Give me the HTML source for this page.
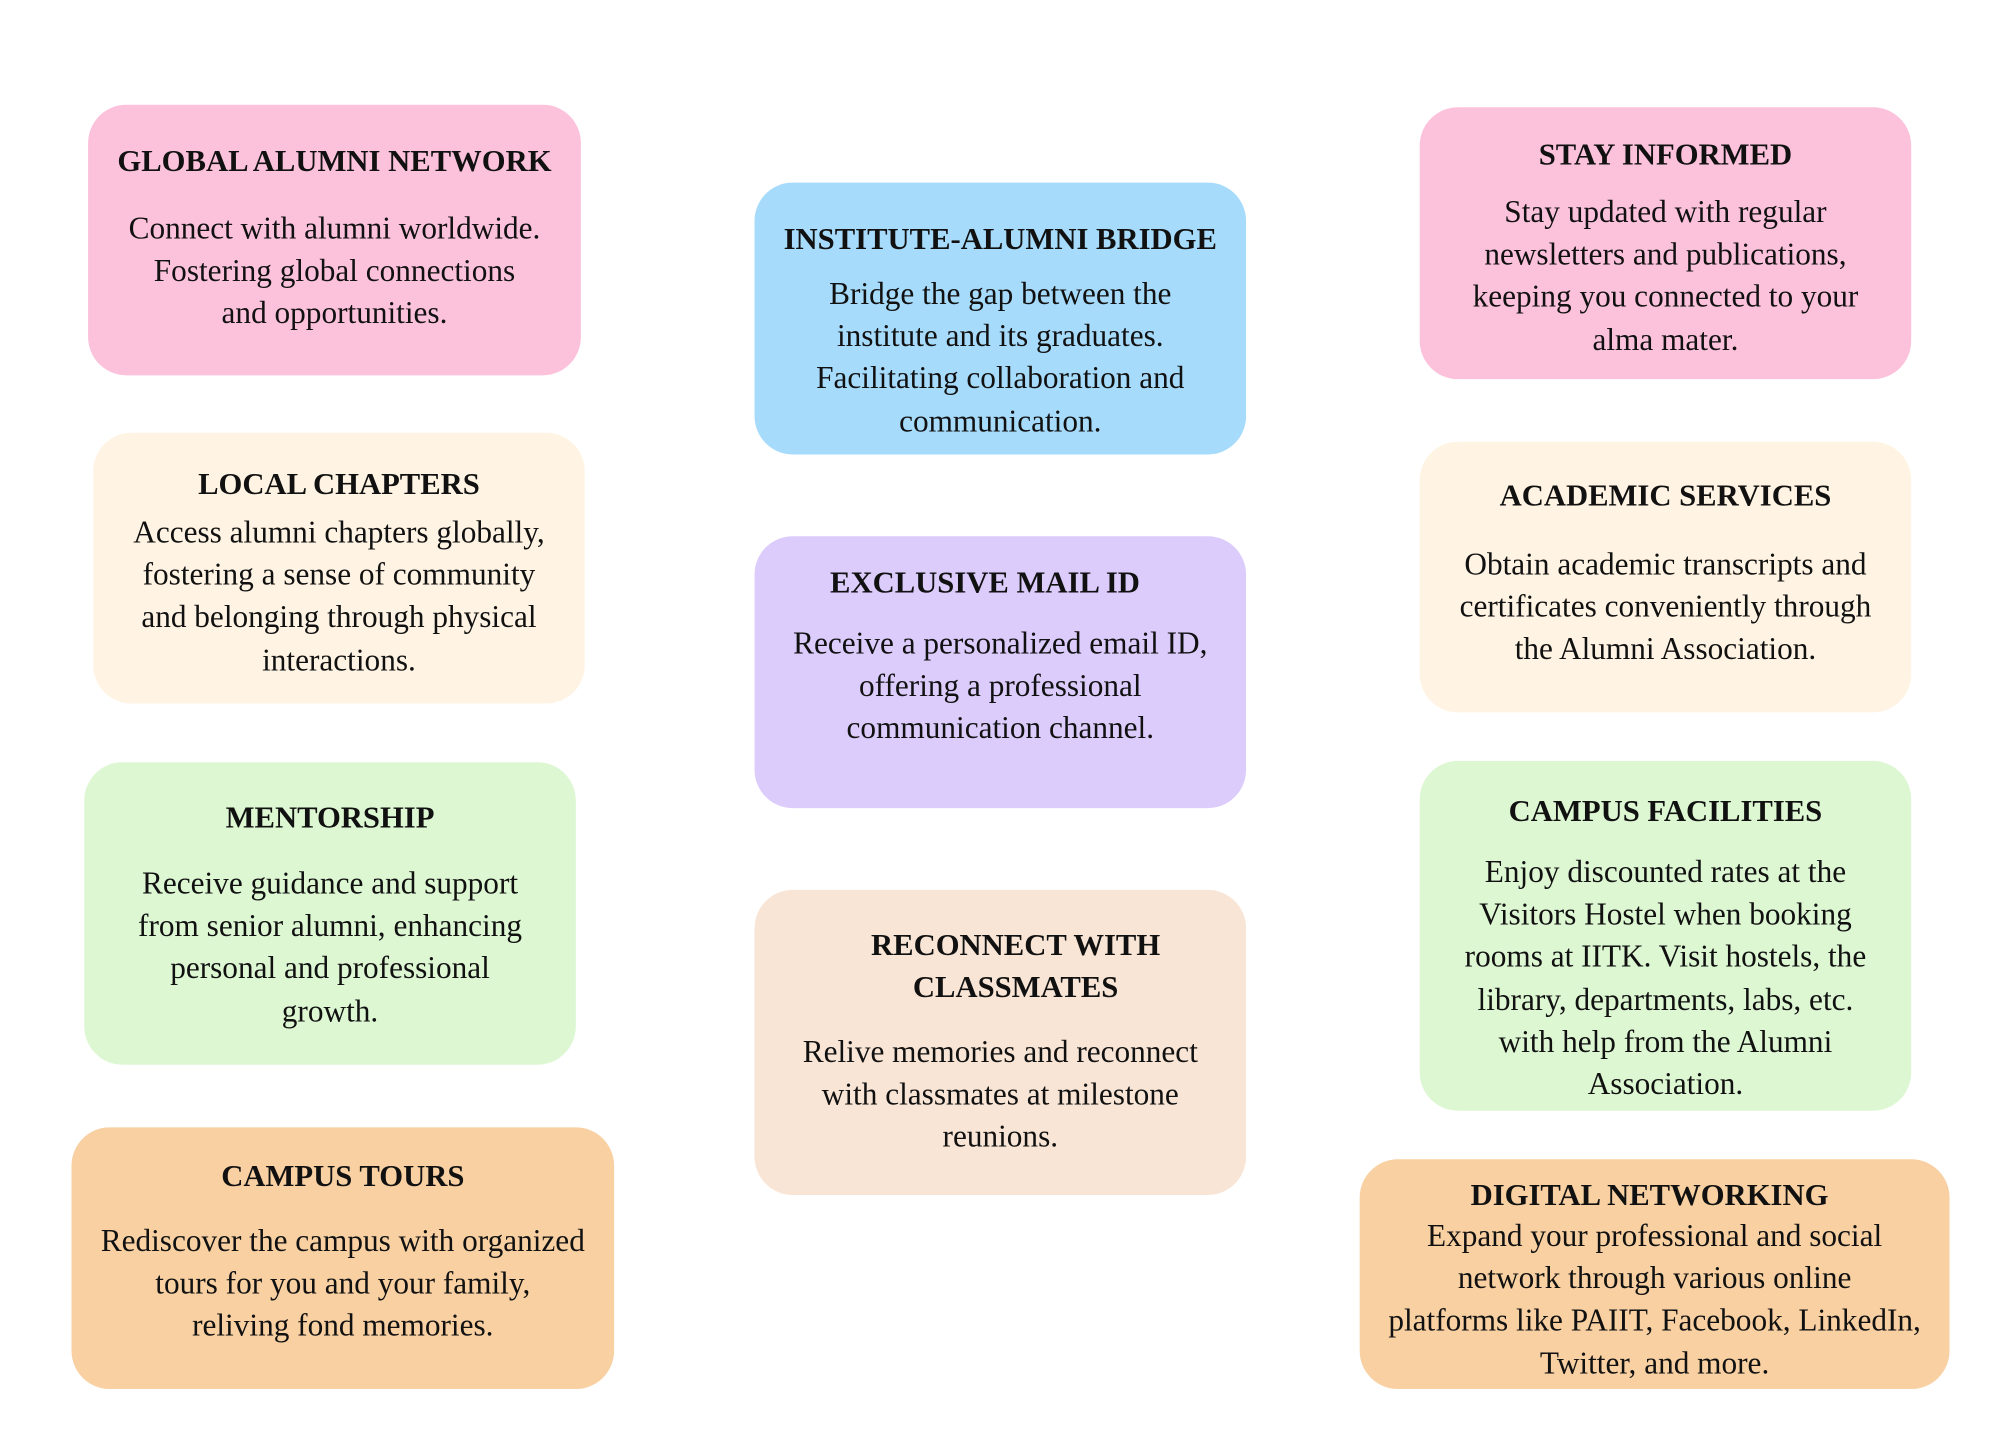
<!DOCTYPE html>
<html><head><meta charset="utf-8">
<style>
html,body{margin:0;padding:0;background:#fff;}
body{width:2000px;height:1429px;overflow:hidden;position:relative;}
#s{position:absolute;left:0;top:0;width:1568px;height:1120px;transform:scale(1.2767);transform-origin:0 0;font-family:"Liberation Serif",serif;color:#111;}
.b{position:absolute;border-radius:30px;}
.t{position:absolute;left:0;right:0;text-align:center;font-weight:bold;font-size:24px;line-height:33px;white-space:nowrap;}
.p{position:absolute;left:0;right:0;text-align:center;font-size:24.5px;line-height:33.2px;white-space:nowrap;}
.pk{background:#fcc2dc}.cr{background:#fff4e3}.gr{background:#ddf7d3}.or{background:#f8d0a2}
.bl{background:#a6dbfb}.pu{background:#dcccfc}.pe{background:#f8e5d5}
</style></head><body><div id="s">

<div class="b pk" style="left:69px;top:82px;width:386px;height:212px">
<div class="t" style="top:29px">GLOBAL ALUMNI NETWORK</div>
<div class="p" style="top:81px">Connect with alumni worldwide.<br>Fostering global connections<br>and opportunities.</div></div>

<div class="b cr" style="left:73px;top:339px;width:385px;height:212px">
<div class="t" style="top:25px">LOCAL CHAPTERS</div>
<div class="p" style="top:62px">Access alumni chapters globally,<br>fostering a sense of community<br>and belonging through physical<br>interactions.</div></div>

<div class="b gr" style="left:66px;top:597px;width:385px;height:237px">
<div class="t" style="top:28px">MENTORSHIP</div>
<div class="p" style="top:79px">Receive guidance and support<br>from senior alumni, enhancing<br>personal and professional<br>growth.</div></div>

<div class="b or" style="left:56px;top:883px;width:425px;height:205px">
<div class="t" style="top:23px">CAMPUS TOURS</div>
<div class="p" style="top:73px">Rediscover the campus with organized<br>tours for you and your family,<br>reliving fond memories.</div></div>

<div class="b bl" style="left:591px;top:143px;width:385px;height:213px">
<div class="t" style="top:29px">INSTITUTE-ALUMNI BRIDGE</div>
<div class="p" style="top:71px">Bridge the gap between the<br>institute and its graduates.<br>Facilitating collaboration and<br>communication.</div></div>

<div class="b pu" style="left:591px;top:420px;width:385px;height:213px">
<div class="t" style="top:21px;right:24px">EXCLUSIVE MAIL ID</div>
<div class="p" style="top:68px">Receive a personalized email ID,<br>offering a professional<br>communication channel.</div></div>

<div class="b pe" style="left:591px;top:697px;width:385px;height:239px">
<div class="t" style="top:28px;left:24px">RECONNECT WITH<br>CLASSMATES</div>
<div class="p" style="top:111px">Relive memories and reconnect<br>with classmates at milestone<br>reunions.</div></div>

<div class="b pk" style="left:1112px;top:84px;width:385px;height:213px">
<div class="t" style="top:22px">STAY INFORMED</div>
<div class="p" style="top:66px">Stay updated with regular<br>newsletters and publications,<br>keeping you connected to your<br>alma mater.</div></div>

<div class="b cr" style="left:1112px;top:346px;width:385px;height:212px">
<div class="t" style="top:27px">ACADEMIC SERVICES</div>
<div class="p" style="top:80px">Obtain academic transcripts and<br>certificates conveniently through<br>the Alumni Association.</div></div>

<div class="b gr" style="left:1112px;top:596px;width:385px;height:274px">
<div class="t" style="top:24px">CAMPUS FACILITIES</div>
<div class="p" style="top:71px">Enjoy discounted rates at the<br>Visitors Hostel when booking<br>rooms at IITK. Visit hostels, the<br>library, departments, labs, etc.<br>with help from the Alumni<br>Association.</div></div>

<div class="b or" style="left:1065px;top:908px;width:462px;height:180px">
<div class="t" style="top:13px;left:-8px">DIGITAL NETWORKING</div>
<div class="p" style="top:44px">Expand your professional and social<br>network through various online<br>platforms like PAIIT, Facebook, LinkedIn,<br>Twitter, and more.</div></div>

</div></body></html>
